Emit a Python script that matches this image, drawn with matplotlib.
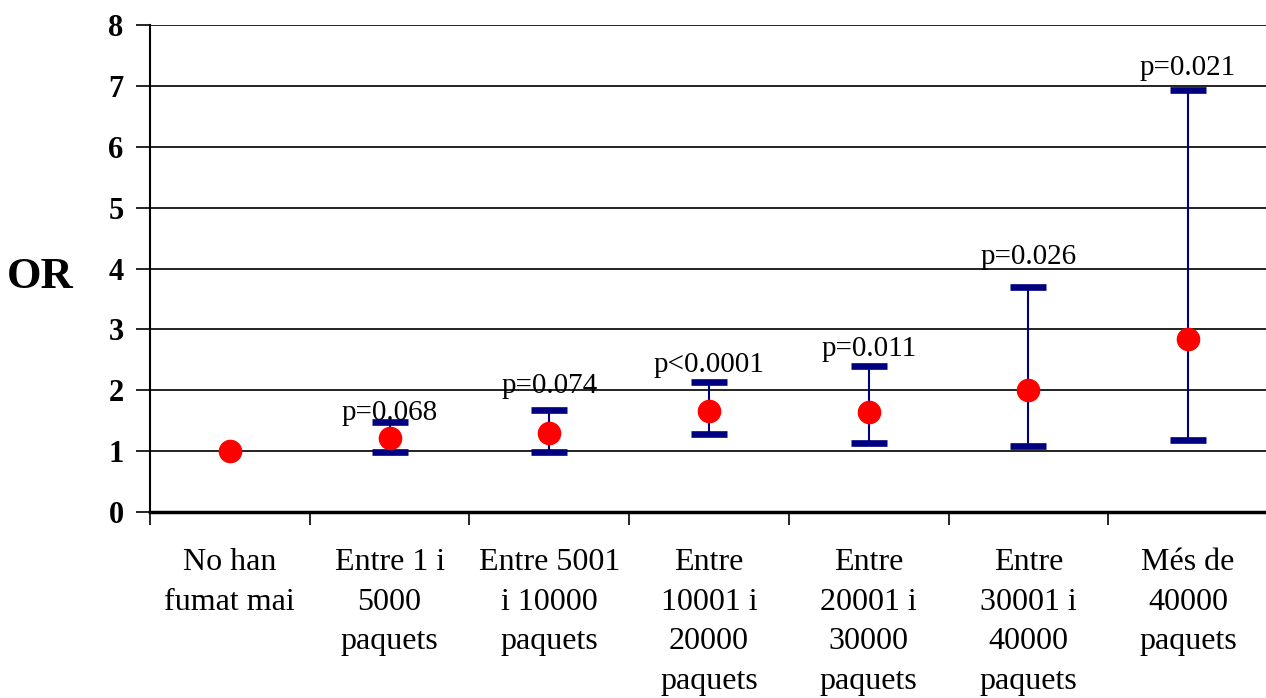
import numpy as np
import matplotlib
matplotlib.use("Agg")
import matplotlib.pyplot as plt

categories = ["No han\nfumat mai", "Entre 1 i\n5000\npaquets", "Entre 5001\ni 10000\npaquets",
              "Entre\n10001 i\n20000\npaquets", "Entre\n20001 i\n30000\npaquets",
              "Entre\n30001 i\n40000\npaquets", "Més de\n40000\npaquets"]
odds_ratio = [1.0, 1.21, 1.29, 1.655, 1.64, 2.01, 2.85]
ci_low = [None, 0.99, 0.99, 1.28, 1.13, 1.08, 1.18]
ci_high = [None, 1.48, 1.68, 2.13, 2.40, 3.69, 6.93]
p_labels = ["", "p=0.068", "p=0.074", "p<0.0001", "p=0.011", "p=0.026", "p=0.021"]
p_label_y = [None, 1.51, 1.955, 2.30, 2.56, 4.08, 7.18]

plt.rcParams["font.family"] = ["Liberation Serif", "DejaVu Serif"]

fig = plt.figure(figsize=(12.66, 6.98), dpi=100)
ax = fig.add_axes([150 / 1266, 1 - 512 / 698, 1118 / 1266, 487 / 698])

x = np.arange(len(categories))

# confidence intervals (first category is the reference, no interval)
idx = [i for i in range(len(categories)) if ci_low[i] is not None]
xs = x[idx]
ors = np.array([odds_ratio[i] for i in idx])
lo = np.array([ci_low[i] for i in idx])
hi = np.array([ci_high[i] for i in idx])
ax.errorbar(xs, ors, yerr=[ors - lo, hi - ors], fmt="none", ecolor="#000080",
            elinewidth=1.5, capsize=12.7, capthick=4.8, zorder=3)

ax.plot(x, odds_ratio, "o", color="#ff0000", markersize=16, zorder=4, linestyle="none")

for i in idx:
    ax.text(x[i], p_label_y[i], p_labels[i], ha="center", va="baseline", fontsize=21, zorder=5)

ax.set_xlim(-0.5, len(categories) - 0.5)
ax.set_ylim(0, 8)
ax.set_yticks(range(0, 9))
ax.set_yticklabels([str(v) for v in range(0, 9)], fontsize=22, fontweight="bold")
ax.yaxis.grid(True, color="#111111", linewidth=1.3)
ax.set_axisbelow(True)

ax.set_xticks(x)
ax.set_xticklabels(categories, fontsize=23, linespacing=1.48, va="top")
ax.set_xticks(np.arange(-0.5, len(categories)), minor=True)
ax.tick_params(axis="x", which="major", length=0, pad=26)
ax.tick_params(axis="x", which="minor", length=9, width=1.2, direction="out")
ax.tick_params(axis="y", length=10, width=1.2, pad=9)

for side in ["top", "right"]:
    ax.spines[side].set_visible(False)
ax.spines["left"].set_linewidth(1.5)
ax.spines["bottom"].set_linewidth(2.5)

fig.text(40 / 1266, 1 - 277 / 698, "OR", fontsize=32, fontweight="bold", ha="center", va="center")

fig.savefig("out.png", dpi=100)
plt.close(fig)
